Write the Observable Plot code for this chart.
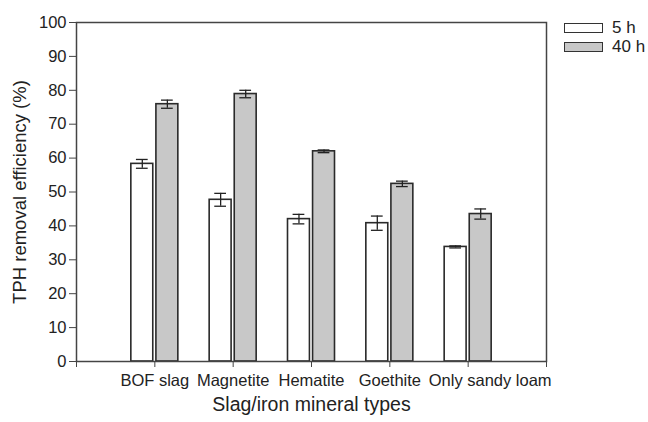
<!DOCTYPE html>
<html>
<head>
<meta charset="utf-8">
<script src="https://cdn.jsdelivr.net/npm/d3@7"></script>
<script src="https://cdn.jsdelivr.net/npm/@observablehq/plot@0.6"></script>
<style>
  body { margin: 0; background: #fff; }
  #wrap { position: relative; width: 648px; height: 422px; font-family: "Liberation Sans", Arial, sans-serif; color: #222; }
  .legend { position: absolute; left: 564px; top: 18px; font-size: 17px; }
  .legend .row { display: flex; align-items: center; height: 19px; }
  .legend .sw { width: 37px; height: 8px; border: 1.2px solid #333; margin-right: 9px; }
</style>
</head>
<body>
<div id="wrap"></div>
<script>
// Removal efficiency by amendment and incubation time
const categories = ["BOF slag", "Magnetite", "Hematite", "Goethite", "Only sandy loam"];
const series = ["5 h", "40 h"];
const values5h  = [58.3, 47.7, 42.0, 40.8, 33.8];
const errors5h  = [1.3, 1.9, 1.4, 2.1, 0.3];
const values40h = [75.9, 78.9, 62.0, 52.4, 43.5];
const errors40h = [1.2, 1.1, 0.4, 0.8, 1.5];
const fills = {"5 h": "#ffffff", "40 h": "#c8c8c8"};

const rows = [];
categories.forEach((c, i) => {
  rows.push({cat: c, idx: i + 1, s: "5 h", v: values5h[i], e: errors5h[i], side: -1});
  rows.push({cat: c, idx: i + 1, s: "40 h", v: values40h[i], e: errors40h[i], side: 1});
});

// bar geometry in units of the category axis
const half = 0.14, gap = 0.02, cap = 0.075;
const center = d => d.idx + d.side * (gap + half);

const chart = Plot.plot({
  width: 648,
  height: 422,
  marginLeft: 76,
  marginRight: 102,
  marginTop: 22,
  marginBottom: 61,
  style: {fontFamily: "Liberation Sans, Arial, sans-serif", color: "#222", background: "#fff"},
  x: {domain: [0, categories.length + 1]},
  y: {domain: [0, 100]},
  marks: [
    Plot.rectY(rows, {
      x1: d => center(d) - half, x2: d => center(d) + half,
      y1: 0, y2: "v",
      fill: d => fills[d.s], stroke: "#2a2a2a", strokeWidth: 1.6
    }),
    Plot.ruleX(rows, {x: center, y1: d => d.v - d.e, y2: d => d.v + d.e, stroke: "#222", strokeWidth: 1.3}),
    Plot.ruleY(rows, {x1: d => center(d) - cap, x2: d => center(d) + cap, y: d => d.v - d.e, stroke: "#222", strokeWidth: 1.3}),
    Plot.ruleY(rows, {x1: d => center(d) - cap, x2: d => center(d) + cap, y: d => d.v + d.e, stroke: "#222", strokeWidth: 1.3}),
    Plot.frame({stroke: "#444", strokeWidth: 1.5}),
    Plot.axisY({ticks: d3.range(0, 101, 10), tickSize: 7, tickPadding: 3, fontSize: 16.5, label: null, stroke: "#444", fill: "#222"}),
    Plot.axisX({ticks: d3.range(0, categories.length + 2), tickSize: 6, tickFormat: () => "", label: null, stroke: "#444"}),
    Plot.text(categories.slice(0, 4), {x: (d, i) => i + 1, frameAnchor: "bottom", lineAnchor: "top", dy: 13, fontSize: 16.5, fill: "#222"}),
    Plot.text(categories.slice(4), {x: (d, i) => i + 5, frameAnchor: "bottom", lineAnchor: "top", dy: 13, dx: 22, fontSize: 16.5, fill: "#222"}),
    Plot.text(["Slag/iron mineral types"], {frameAnchor: "bottom", lineAnchor: "top", dy: 36, fontSize: 19.5, fill: "#222"}),
    Plot.text(["TPH removal efficiency (%)"], {frameAnchor: "left", textAnchor: "middle", rotate: -90, dx: -56, fontSize: 18.5, fill: "#222"})
  ]
});

const wrap = document.getElementById("wrap");
wrap.appendChild(chart);

const legend = document.createElement("div");
legend.className = "legend";
series.forEach(s => {
  const row = document.createElement("div");
  row.className = "row";
  const sw = document.createElement("span");
  sw.className = "sw";
  sw.style.background = fills[s];
  const lab = document.createElement("span");
  lab.textContent = s;
  row.appendChild(sw);
  row.appendChild(lab);
  legend.appendChild(row);
});
wrap.appendChild(legend);
</script>
</body>
</html>
